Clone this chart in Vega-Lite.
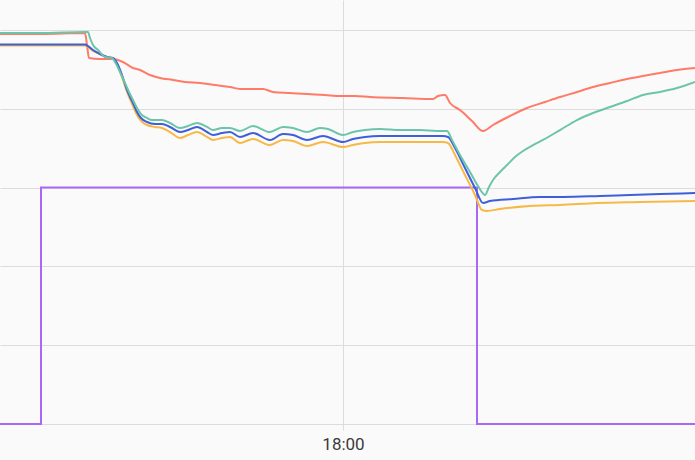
{
  "$schema": "https://vega.github.io/schema/vega-lite/v6.json",
  "width": 695,
  "height": 424,
  "autosize": {"type": "none"},
  "padding": {"left": 0, "top": 0, "right": 0, "bottom": 36},
  "background": "#fafafa",
  "config": {"view": {"stroke": null}},
  "data": {"values": [
    {"s":"p","m":737,"v":0},{"s":"p","m":778,"v":300},{"s":"p","m":1214,"v":0},{"s":"p","m":1432,"v":0},
    {"s":"r","m":737,"v":494.9},{"s":"r","m":777,"v":494.9},{"s":"r","m":822,"v":496.1},{"s":"r","m":824,"v":480.9},{"s":"r","m":826,"v":464.4},{"s":"r","m":837,"v":463.1},{"s":"r","m":850,"v":463.1},{"s":"r","m":860,"v":459.3},{"s":"r","m":870,"v":451.7},{"s":"r","m":877,"v":449.2},{"s":"r","m":887,"v":442.8},{"s":"r","m":897,"v":439.0},{"s":"r","m":910,"v":436.5},{"s":"r","m":922,"v":434.0},{"s":"r","m":937,"v":432.7},{"s":"r","m":952,"v":430.1},{"s":"r","m":967,"v":427.6},{"s":"r","m":977,"v":425.1},{"s":"r","m":1000,"v":425.1},{"s":"r","m":1010,"v":421.3},{"s":"r","m":1027,"v":420.0},{"s":"r","m":1044,"v":418.7},{"s":"r","m":1062,"v":417.5},{"s":"r","m":1077,"v":416.2},{"s":"r","m":1092,"v":416.2},{"s":"r","m":1107,"v":414.9},{"s":"r","m":1140,"v":413.6},{"s":"r","m":1170,"v":412.4},{"s":"r","m":1175,"v":416.2},{"s":"r","m":1182,"v":417.5},{"s":"r","m":1187,"v":407.3},{"s":"r","m":1197,"v":398.4},{"s":"r","m":1209,"v":384.5},{"s":"r","m":1220,"v":371.8},{"s":"r","m":1230,"v":379.4},{"s":"r","m":1247,"v":390.8},{"s":"r","m":1264,"v":401.0},{"s":"r","m":1282,"v":408.6},{"s":"r","m":1297,"v":414.9},{"s":"r","m":1314,"v":421.3},{"s":"r","m":1330,"v":427.6},{"s":"r","m":1347,"v":432.7},{"s":"r","m":1364,"v":437.8},{"s":"r","m":1380,"v":441.6},{"s":"r","m":1397,"v":445.4},{"s":"r","m":1414,"v":449.2},{"s":"r","m":1432,"v":451.7},
    {"s":"o","m":737,"v":480.3},{"s":"o","m":777,"v":480.3},{"s":"o","m":822,"v":480.3},{"s":"o","m":825,"v":478.4},{"s":"o","m":830,"v":473.3},{"s":"o","m":837,"v":469.5},{"s":"o","m":844,"v":465.7},{"s":"o","m":850,"v":463.8},{"s":"o","m":854,"v":456.8},{"s":"o","m":859,"v":440.3},{"s":"o","m":864,"v":421.3},{"s":"o","m":870,"v":403.5},{"s":"o","m":874,"v":392.1},{"s":"o","m":878,"v":384.5},{"s":"o","m":884,"v":379.4},{"s":"o","m":892,"v":376.9},{"s":"o","m":899,"v":375.6},{"s":"o","m":907,"v":370.5},{"s":"o","m":917,"v":362.9},{"s":"o","m":925,"v":366.7},{"s":"o","m":934,"v":370.5},{"s":"o","m":944,"v":364.2},{"s":"o","m":950,"v":360.4},{"s":"o","m":959,"v":362.9},{"s":"o","m":967,"v":364.2},{"s":"o","m":977,"v":356.6},{"s":"o","m":990,"v":361.6},{"s":"o","m":1007,"v":354.0},{"s":"o","m":1020,"v":360.4},{"s":"o","m":1030,"v":359.1},{"s":"o","m":1044,"v":352.7},{"s":"o","m":1060,"v":357.8},{"s":"o","m":1080,"v":351.5},{"s":"o","m":1090,"v":354.0},{"s":"o","m":1102,"v":356.6},{"s":"o","m":1117,"v":357.8},{"s":"o","m":1137,"v":357.8},{"s":"o","m":1157,"v":357.8},{"s":"o","m":1180,"v":357.8},{"s":"o","m":1185,"v":356.6},{"s":"o","m":1192,"v":341.3},{"s":"o","m":1202,"v":315.9},{"s":"o","m":1212,"v":290.6},{"s":"o","m":1219,"v":271.5},{"s":"o","m":1224,"v":270.3},{"s":"o","m":1237,"v":272.8},{"s":"o","m":1267,"v":276.6},{"s":"o","m":1297,"v":277.9},{"s":"o","m":1334,"v":280.4},{"s":"o","m":1377,"v":281.7},{"s":"o","m":1432,"v":283.0},
    {"s":"b","m":737,"v":481.5},{"s":"b","m":777,"v":481.5},{"s":"b","m":822,"v":481.5},{"s":"b","m":825,"v":479.6},{"s":"b","m":830,"v":474.6},{"s":"b","m":837,"v":469.5},{"s":"b","m":844,"v":465.7},{"s":"b","m":850,"v":464.4},{"s":"b","m":854,"v":458.1},{"s":"b","m":859,"v":442.8},{"s":"b","m":864,"v":423.8},{"s":"b","m":870,"v":407.3},{"s":"b","m":874,"v":395.9},{"s":"b","m":878,"v":388.3},{"s":"b","m":884,"v":383.2},{"s":"b","m":892,"v":380.7},{"s":"b","m":899,"v":380.7},{"s":"b","m":907,"v":376.9},{"s":"b","m":917,"v":370.5},{"s":"b","m":925,"v":373.0},{"s":"b","m":934,"v":376.9},{"s":"b","m":944,"v":370.5},{"s":"b","m":950,"v":366.7},{"s":"b","m":959,"v":369.2},{"s":"b","m":967,"v":370.5},{"s":"b","m":977,"v":364.2},{"s":"b","m":990,"v":369.2},{"s":"b","m":1007,"v":360.4},{"s":"b","m":1020,"v":368.0},{"s":"b","m":1030,"v":366.7},{"s":"b","m":1044,"v":360.4},{"s":"b","m":1060,"v":365.4},{"s":"b","m":1080,"v":357.8},{"s":"b","m":1090,"v":361.6},{"s":"b","m":1102,"v":364.2},{"s":"b","m":1117,"v":365.4},{"s":"b","m":1137,"v":365.4},{"s":"b","m":1157,"v":365.4},{"s":"b","m":1180,"v":365.4},{"s":"b","m":1185,"v":364.2},{"s":"b","m":1192,"v":350.2},{"s":"b","m":1202,"v":324.8},{"s":"b","m":1212,"v":299.5},{"s":"b","m":1220,"v":280.4},{"s":"b","m":1227,"v":283.0},{"s":"b","m":1250,"v":285.5},{"s":"b","m":1277,"v":288.0},{"s":"b","m":1300,"v":288.0},{"s":"b","m":1337,"v":289.3},{"s":"b","m":1367,"v":290.6},{"s":"b","m":1397,"v":291.8},{"s":"b","m":1432,"v":293.1},
    {"s":"t","m":737,"v":496.1},{"s":"t","m":777,"v":496.1},{"s":"t","m":822,"v":497.4},{"s":"t","m":825,"v":497.4},{"s":"t","m":827,"v":489.8},{"s":"t","m":830,"v":480.9},{"s":"t","m":835,"v":474.6},{"s":"t","m":842,"v":465.7},{"s":"t","m":849,"v":464.4},{"s":"t","m":852,"v":459.3},{"s":"t","m":857,"v":446.6},{"s":"t","m":862,"v":432.7},{"s":"t","m":866,"v":421.3},{"s":"t","m":870,"v":411.1},{"s":"t","m":874,"v":401.0},{"s":"t","m":878,"v":393.3},{"s":"t","m":884,"v":388.3},{"s":"t","m":889,"v":385.7},{"s":"t","m":894,"v":385.7},{"s":"t","m":899,"v":385.7},{"s":"t","m":907,"v":381.9},{"s":"t","m":917,"v":375.6},{"s":"t","m":925,"v":378.1},{"s":"t","m":934,"v":381.9},{"s":"t","m":944,"v":376.9},{"s":"t","m":950,"v":373.0},{"s":"t","m":959,"v":375.6},{"s":"t","m":967,"v":375.6},{"s":"t","m":977,"v":371.8},{"s":"t","m":990,"v":378.1},{"s":"t","m":1007,"v":370.5},{"s":"t","m":1020,"v":376.9},{"s":"t","m":1030,"v":375.6},{"s":"t","m":1044,"v":370.5},{"s":"t","m":1057,"v":375.6},{"s":"t","m":1065,"v":374.3},{"s":"t","m":1080,"v":366.7},{"s":"t","m":1090,"v":370.5},{"s":"t","m":1102,"v":373.0},{"s":"t","m":1117,"v":374.3},{"s":"t","m":1137,"v":373.0},{"s":"t","m":1157,"v":373.0},{"s":"t","m":1174,"v":371.8},{"s":"t","m":1184,"v":371.8},{"s":"t","m":1189,"v":360.4},{"s":"t","m":1197,"v":341.3},{"s":"t","m":1207,"v":319.8},{"s":"t","m":1215,"v":302.0},{"s":"t","m":1222,"v":290.6},{"s":"t","m":1226,"v":300.7},{"s":"t","m":1230,"v":309.6},{"s":"t","m":1237,"v":319.8},{"s":"t","m":1244,"v":328.6},{"s":"t","m":1252,"v":338.8},{"s":"t","m":1260,"v":346.4},{"s":"t","m":1270,"v":354.0},{"s":"t","m":1280,"v":360.4},{"s":"t","m":1297,"v":373.0},{"s":"t","m":1314,"v":385.7},{"s":"t","m":1330,"v":394.6},{"s":"t","m":1347,"v":402.2},{"s":"t","m":1364,"v":409.8},{"s":"t","m":1380,"v":417.5},{"s":"t","m":1397,"v":421.3},{"s":"t","m":1414,"v":426.3},{"s":"t","m":1432,"v":434.0}
  ]},
  "encoding": {
    "x": {"field": "m", "type": "quantitative",
      "scale": {"domain": [737, 1432], "nice": false, "zero": false},
      "axis": {"values": [1080], "title": null, "domain": false, "grid": true, "gridColor": "#dcdcdc",
        "tickColor": "#dcdcdc", "tickSize": 6, "labelPadding": 6, "labelFont": "Roboto", "labelFontSize": 17,
        "labelColor": "#3a3a3a",
        "labelExpr": "format(floor(datum.value/60),'02d') + ':' + format(datum.value%60,'02d')"}},
    "y": {"field": "v", "type": "quantitative",
      "scale": {"domain": [0, 538], "nice": false, "zero": false},
      "axis": {"values": [0,100,200,300,400,500], "labels": false, "ticks": false, "domain": false, "title": null, "grid": true, "gridColor": "#dcdcdc"}},
    "color": {"field": "s", "type": "nominal", "legend": null,
      "scale": {"domain": ["p","r","o","b","t"], "range": ["#a968f5","#ff7b67","#f7b946","#3f5fd8","#6cc5aa"]}}
  },
  "layer": [
    {"transform": [{"filter": "datum.s === 'p'"}],
     "mark": {"type": "line", "strokeWidth": 2, "interpolate": "step-after"}},
    {"transform": [{"filter": "datum.s !== 'p'"}],
     "mark": {"type": "line", "strokeWidth": 2, "interpolate": "monotone"}}
  ]
}
